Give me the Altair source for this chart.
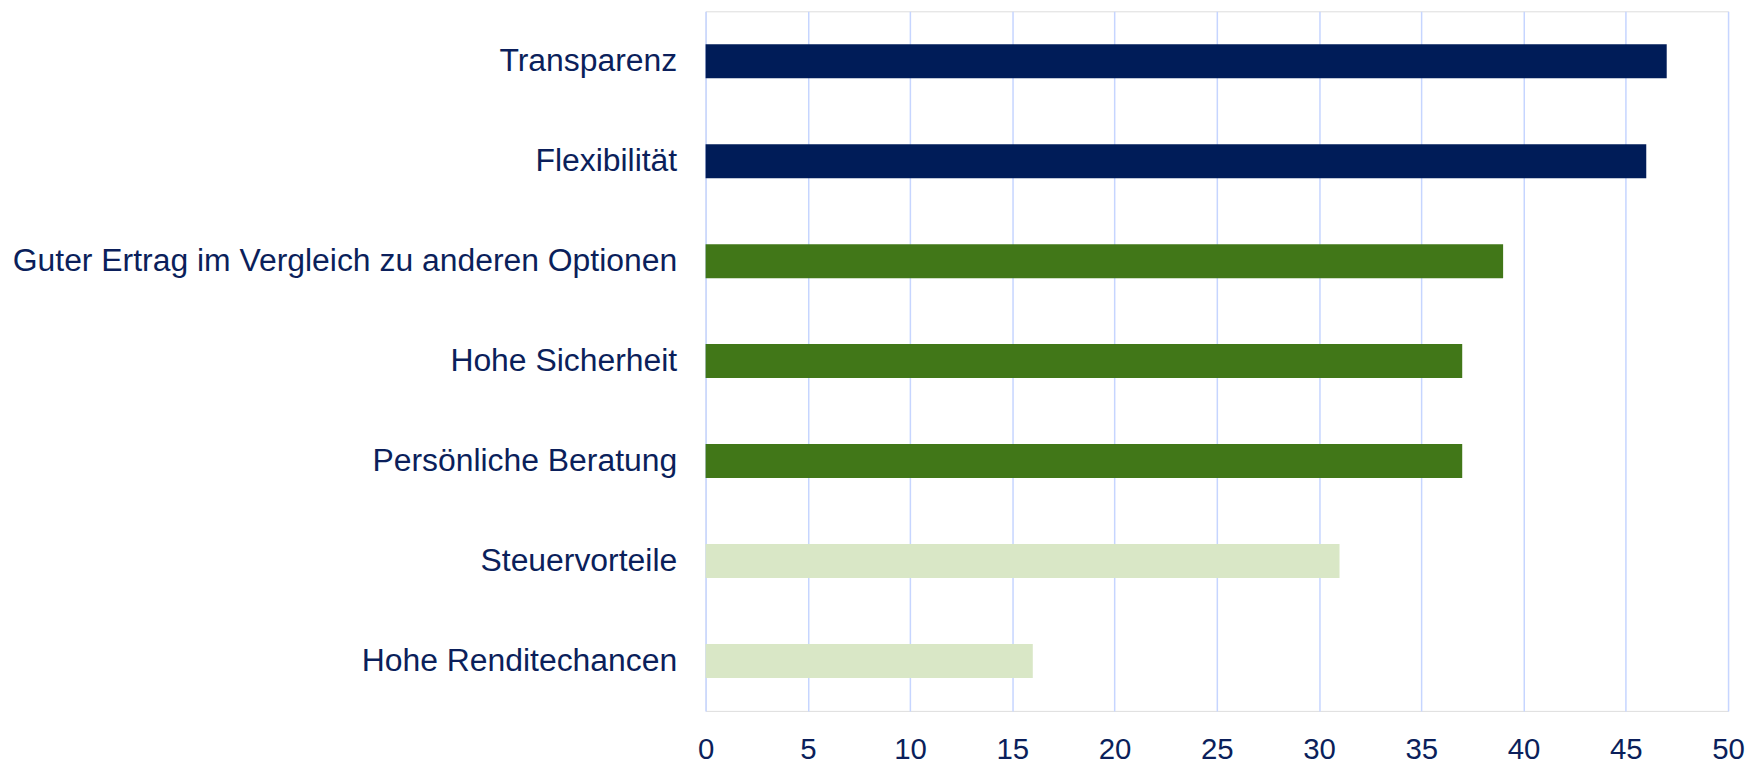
import altair as alt
import pandas as pd

categories = [
    "Transparenz",
    "Flexibilität",
    "Guter Ertrag im Vergleich zu anderen Optionen",
    "Hohe Sicherheit",
    "Persönliche Beratung",
    "Steuervorteile",
    "Hohe Renditechancen",
]
values = [47, 46, 39, 37, 37, 31, 16]
groups = ["top", "top", "mid", "mid", "mid", "low", "low"]

group_domain = ["top", "mid", "low"]
group_colors = ["#001C58", "#417718", "#D9E7C6"]

df = pd.DataFrame({"Kategorie": categories, "Wert": values, "Gruppe": groups})

text_color = "#0B1F5B"
font = "Liberation Sans"

chart = (
    alt.Chart(df)
    .mark_bar()
    .encode(
        y=alt.Y(
            "Kategorie:N",
            sort=categories,
            title=None,
            scale=alt.Scale(paddingInner=0.66, paddingOuter=0.33),
            axis=alt.Axis(
                domain=False,
                ticks=False,
                grid=False,
                labelFont=font,
                labelFontSize=32,
                labelColor=text_color,
                labelPadding=29,
                labelLimit=900,
            ),
        ),
        x=alt.X(
            "Wert:Q",
            title=None,
            scale=alt.Scale(domain=[0, 50], nice=False),
            axis=alt.Axis(
                values=[0, 5, 10, 15, 20, 25, 30, 35, 40, 45, 50],
                domain=False,
                ticks=False,
                grid=True,
                gridColor="#C6D5FF",
                gridWidth=1.5,
                labelFont=font,
                labelFontSize=29.5,
                labelColor=text_color,
                labelPadding=25,
                labelFlush=False,
            ),
        ),
        color=alt.Color(
            "Gruppe:N",
            scale=alt.Scale(domain=group_domain, range=group_colors),
            legend=None,
        ),
    )
    .properties(
        width=1026,
        height=702,
        autosize=alt.AutoSizeParams(type="none"),
        padding={"left": 700, "top": 2, "right": 18, "bottom": 52},
    )
    .configure_view(stroke=None)
    .configure(background="white")
)

chart.save("out.html", embed_options={"renderer": "svg", "actions": False})
